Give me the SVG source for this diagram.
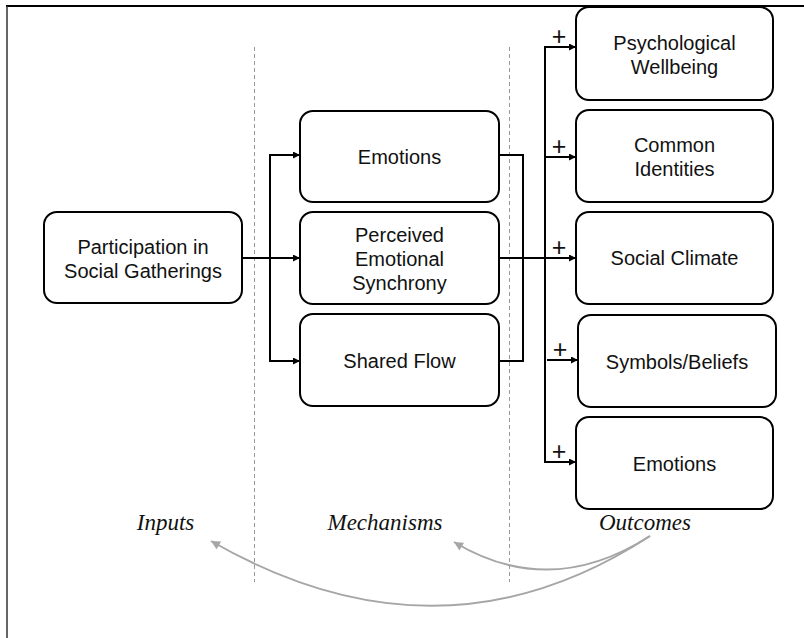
<svg xmlns="http://www.w3.org/2000/svg" width="804" height="638" viewBox="0 0 804 638">
<defs>
<style>
.box{fill:#fff;stroke:#000;stroke-width:2}
.t{font-family:"Liberation Sans",Arial,sans-serif;font-size:20px;fill:#111;text-anchor:middle}
.lab{font-family:"Liberation Serif","Times New Roman",serif;font-style:italic;font-size:23px;fill:#111;text-anchor:middle}
.c{fill:none;stroke:#000;stroke-width:2}
.dash{fill:none;stroke:#999;stroke-width:1;stroke-dasharray:4 3}
.g{fill:none;stroke:#a6a6a6;stroke-width:2}
.plus{font-family:"Liberation Sans",Arial,sans-serif;font-size:25px;font-weight:300;fill:#111;text-anchor:middle}
</style>
<marker id="ah" viewBox="0 0 10 10" refX="10" refY="5" markerWidth="9" markerHeight="7" markerUnits="userSpaceOnUse" orient="auto">
<path d="M0,0 L10,5 L0,10 z" fill="#000"/>
</marker>
<marker id="gh" viewBox="0 0 10 10" refX="10" refY="5" markerWidth="10" markerHeight="9" markerUnits="userSpaceOnUse" orient="auto">
<path d="M0,0 L10,5 L0,10 z" fill="#a6a6a6"/>
</marker>
</defs>
<rect width="804" height="638" fill="#fff"/>
<g id="frame">
<line x1="6" y1="6" x2="804" y2="6" stroke="#000" stroke-width="2"/>
<line x1="7" y1="6" x2="7" y2="638" stroke="#333" stroke-width="1.5"/>
</g>
<g id="dividers">
<line class="dash" x1="254.5" y1="47" x2="254.5" y2="582"/>
<line class="dash" x1="509.5" y1="47" x2="509.5" y2="582"/>
</g>
<g id="connectors">
<line class="c" x1="242" y1="258" x2="300" y2="258" marker-end="url(#ah)"/>
<polyline class="c" points="300,155 270,155 270,361 300,361" marker-end="url(#ah)"/>
<line class="c" x1="270" y1="155" x2="300" y2="155" marker-end="url(#ah)"/>
<polyline class="c" points="499,155 523,155 523,361 499,361"/>
<line class="c" x1="499" y1="258" x2="576" y2="258" marker-end="url(#ah)"/>
<polyline class="c" points="576,47 545,47 545,462 576,462" marker-end="url(#ah)"/>
<line class="c" x1="545" y1="47" x2="576" y2="47" marker-end="url(#ah)"/>
<line class="c" x1="545" y1="157" x2="576" y2="157" marker-end="url(#ah)"/>
<line class="c" x1="547" y1="360" x2="578" y2="360" marker-end="url(#ah)"/>
<text class="plus" x="559" y="45">+</text>
<text class="plus" x="559" y="155">+</text>
<text class="plus" x="559" y="256">+</text>
<text class="plus" x="560" y="358">+</text>
<text class="plus" x="559" y="460">+</text>
<path class="g" d="M650,536 Q550,600 454,542" marker-end="url(#gh)"/>
<path class="g" d="M650,536 Q440,673 211,541" marker-end="url(#gh)"/>
</g>
<g id="participation">
<rect class="box" x="44" y="212" width="198" height="91" rx="13"/>
<text class="t" x="143" y="254">Participation in</text>
<text class="t" x="143" y="278">Social Gatherings</text>
</g>
<g id="emotions-mech">
<rect class="box" x="300" y="111" width="199" height="91" rx="13"/>
<text class="t" x="399.5" y="164">Emotions</text>
</g>
<g id="synchrony">
<rect class="box" x="300" y="212" width="199" height="92" rx="13"/>
<text class="t" x="399.5" y="242">Perceived</text>
<text class="t" x="399.5" y="266">Emotional</text>
<text class="t" x="399.5" y="290">Synchrony</text>
</g>
<g id="shared-flow">
<rect class="box" x="300" y="314" width="199" height="92" rx="13"/>
<text class="t" x="399.5" y="368">Shared Flow</text>
</g>
<g id="wellbeing">
<rect class="box" x="576" y="7" width="197" height="93" rx="13"/>
<text class="t" x="674.5" y="50">Psychological</text>
<text class="t" x="674.5" y="74">Wellbeing</text>
</g>
<g id="identities">
<rect class="box" x="576" y="110" width="197" height="92" rx="13"/>
<text class="t" x="674.5" y="152">Common</text>
<text class="t" x="674.5" y="176">Identities</text>
</g>
<g id="climate">
<rect class="box" x="576" y="212" width="197" height="92" rx="13"/>
<text class="t" x="674.5" y="265">Social Climate</text>
</g>
<g id="symbols">
<rect class="box" x="578" y="315" width="198" height="92" rx="13"/>
<text class="t" x="677" y="369">Symbols/Beliefs</text>
</g>
<g id="emotions-out">
<rect class="box" x="576" y="417" width="197" height="92" rx="13"/>
<text class="t" x="674.5" y="471">Emotions</text>
</g>
<g id="labels">
<text class="lab" x="165.5" y="530">Inputs</text>
<text class="lab" x="385" y="530">Mechanisms</text>
<text class="lab" x="645" y="530">Outcomes</text>
</g>
</svg>
